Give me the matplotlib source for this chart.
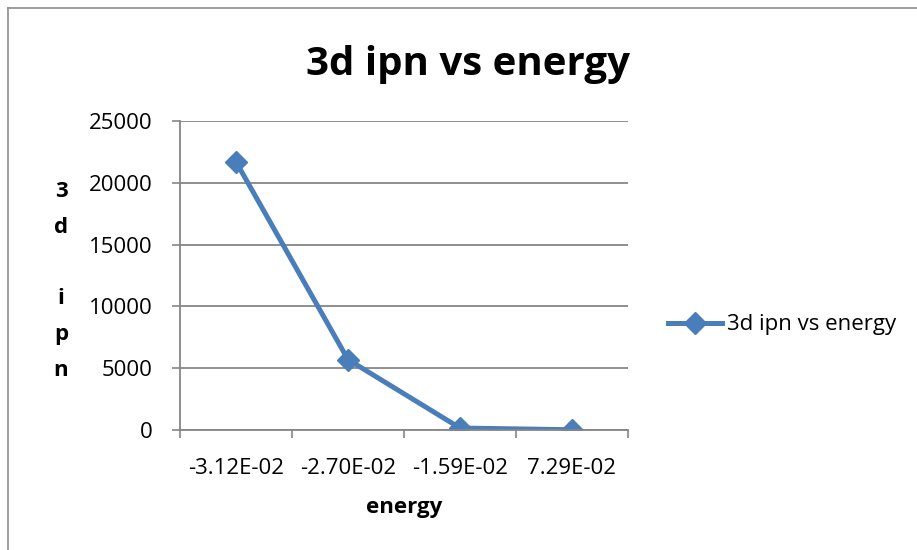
import matplotlib.pyplot as plt
from matplotlib.lines import Line2D

plt.rcParams['font.family'] = ['Open Sans', 'DejaVu Sans']

energy_labels = ['-3.12E-02', '-2.70E-02', '-1.59E-02', '7.29E-02']
ipn_3d = [21700, 5700, 160, 20]
y_ticks = [0, 5000, 10000, 15000, 20000, 25000]

blue = '#4a7ebb'
grid_gray = '#868686'

fig = plt.figure(figsize=(9.17, 5.5), dpi=100)
ax = fig.add_axes([180/917, 1 - 430/550, 448/917, 309/550])

x = list(range(len(energy_labels)))
ax.plot(x, ipn_3d, color=blue, linewidth=3.6, marker='D', markersize=11.5,
        label='3d ipn vs energy')

ax.set_xlim(-0.5, len(energy_labels) - 0.5)
ax.set_ylim(0, 25000)
ax.set_yticks(y_ticks)
ax.set_yticklabels([str(v) for v in y_ticks], fontsize=16)
ax.set_xticks(x)
ax.set_xticklabels(energy_labels, fontsize=16)
ax.set_xticks([i - 0.5 for i in range(len(energy_labels) + 1)], minor=True)
ax.tick_params(axis='x', which='major', length=0, pad=20)
ax.tick_params(axis='x', which='minor', length=6, color=grid_gray, width=1.2)
ax.tick_params(axis='y', length=6, color=grid_gray, width=1.2, pad=14)

ax.grid(axis='y', color=grid_gray, linewidth=1.3)
ax.set_axisbelow(True)
for s in ['top', 'right']:
    ax.spines[s].set_visible(False)
for s in ['left', 'bottom']:
    ax.spines[s].set_color(grid_gray)
    ax.spines[s].set_linewidth(1.3)

ax.set_xlabel('energy', fontsize=16, fontweight='bold', va='center')
ax.xaxis.set_label_coords(0.5, (430 - 507) / 309)

# vertical stacked y label
fig.text(61/917, 1 - 281/550, '3\nd\n\ni\np\nn', fontsize=16, fontweight='bold',
         ha='center', va='center', linespacing=1.92)

fig.text(468/917, 1 - 65/550, '3d ipn vs energy', fontsize=29, fontweight='bold',
         ha='center', va='center')

ax.legend(loc='center left', bbox_to_anchor=(1.069, 0.34), frameon=False,
          fontsize=16, handlelength=2.43, handletextpad=0.22, borderaxespad=0)

# chart area border
fig.add_artist(Line2D([8/917, 1], [1 - 8/550, 1 - 8/550], color='#8c8c8c', linewidth=1.2))
fig.add_artist(Line2D([8/917, 8/917], [0, 1 - 8/550], color='#8c8c8c', linewidth=1.2))

plt.savefig('out.png', dpi=100)
plt.close()
